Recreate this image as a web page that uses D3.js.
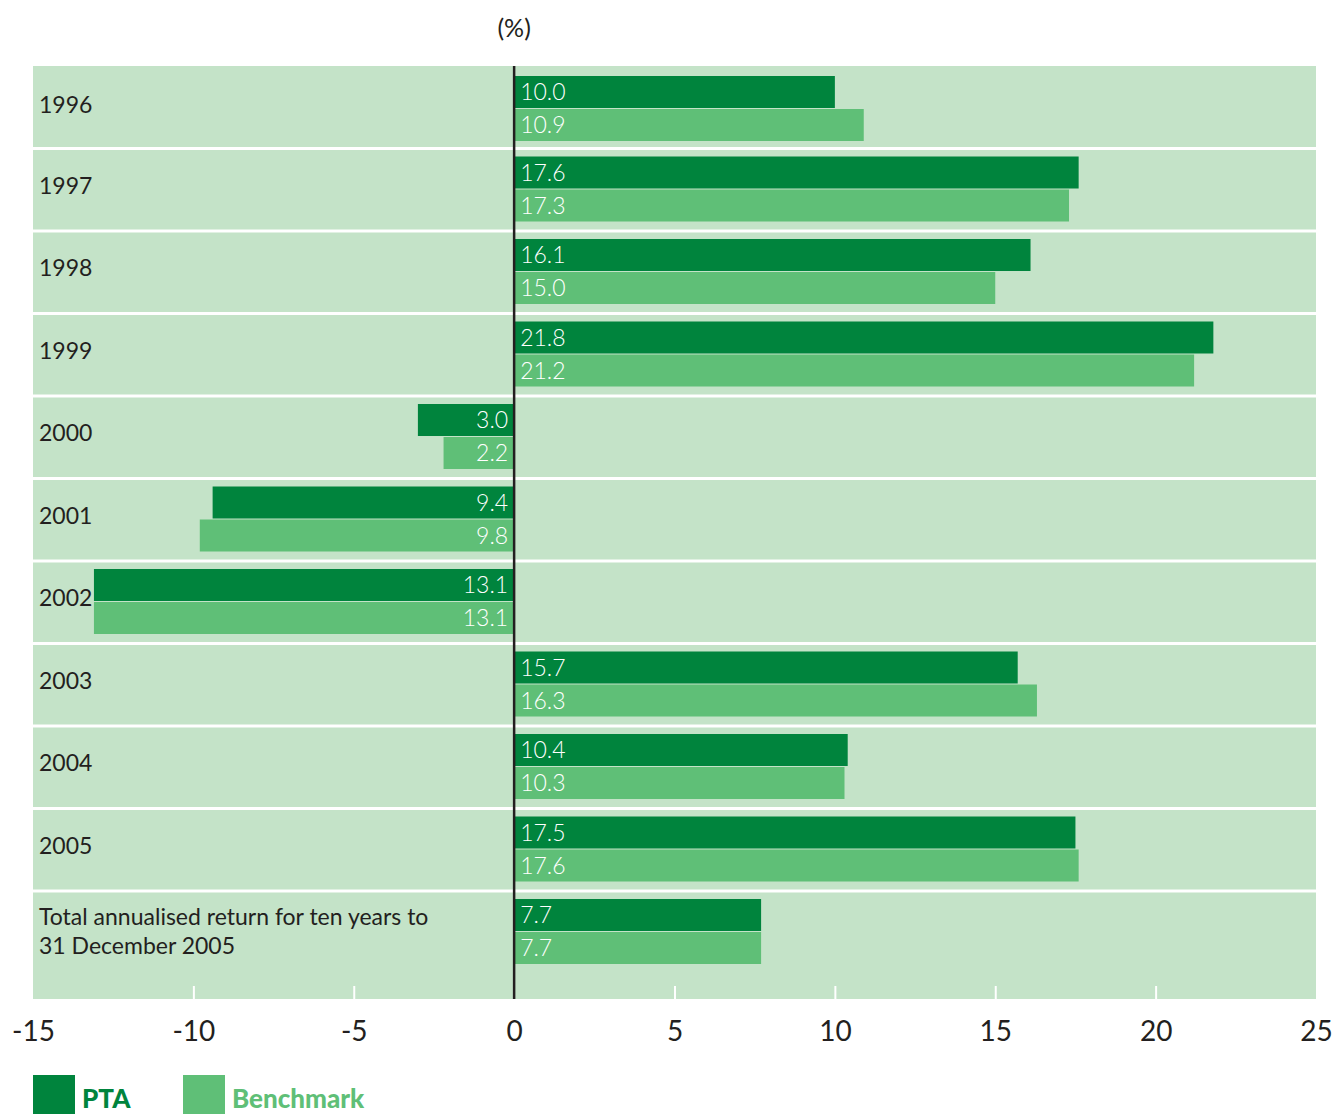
<!DOCTYPE html>
<html><head><meta charset="utf-8">
<script src="https://cdn.jsdelivr.net/npm/d3@7"></script>
<style>body{margin:0;background:#fff;}svg{display:block;}</style>
</head><body><svg id="c" width="1337" height="1114"></svg>
<script>
const categories = ["1996","1997","1998","1999","2000","2001","2002","2003","2004","2005","Total annualised return for ten years to|31 December 2005"];
const ptaValues = [10.0,17.6,16.1,21.8,-3.0,-9.4,-13.1,15.7,10.4,17.5,7.7];
const benchmarkValues = [10.9,17.3,15.0,21.2,-2.2,-9.8,-13.1,16.3,10.3,17.6,7.7];
const seriesNames = ["PTA","Benchmark"];
const tickValues = [-15,-10,-5,0,5,10,15,20,25];
const unitLabel = "(%)";

(function(){
const C_DARK = "#00843d", C_LIGHT = "#5fbf77", C_BG = "#c4e3c8", C_TEXT = "#231f20";
const FONT = "Lato, 'Open Sans', sans-serif";
const svg = d3.select("#c");
const pLeft = 33, pRight = 1316, pTop = 66, plotBottom = 999, rowH = 82.5;

const x = d3.scaleLinear().domain([-15,25]).range([pLeft,pRight]);
const y = d3.scaleBand().domain(categories).range([pTop, pTop + rowH*categories.length]).paddingInner(0).paddingOuter(0);

// row backgrounds
svg.selectAll("rect.row").data(categories).join("rect")
  .attr("x", pLeft).attr("width", pRight-pLeft)
  .attr("y", (d,i)=> y(d) + (i>0?1.5:0))
  .attr("height", (d,i)=> (i===categories.length-1 ? plotBottom - y(d) : y.bandwidth()) - (i>0?1.5:0) - (i<categories.length-1?1.5:0))
  .attr("fill", C_BG);

const bh = 32;
const data = categories.map((c,i)=>({c, v:[ptaValues[i], benchmarkValues[i]]}));
const offOf = i => i===0 ? 10 : 8;
const g = svg.append("g");
data.forEach((d,i)=>{
  d.v.forEach((v,k)=>{
    const yy = y(d.c) + offOf(i) + k*(bh+1);
    g.append("rect").attr("x", Math.min(x(0),x(v))).attr("width", Math.abs(x(v)-x(0)))
      .attr("y", yy).attr("height", bh).attr("fill", k===0?C_DARK:C_LIGHT);
    g.append("text").attr("x", v>=0 ? x(0)+6 : x(0)-6)
      .attr("y", yy + bh/2 + 8).attr("text-anchor", v>=0?"start":"end")
      .attr("fill","#fff").attr("font-family",FONT).attr("font-size",23).attr("font-weight",300)
      .text(Math.abs(v).toFixed(1));
  });
});

// category labels
data.forEach((d,i)=>{
  const lines = d.c.split("|");
  const t = svg.append("text").attr("x", 39).attr("font-family",FONT).attr("font-size",23).attr("fill",C_TEXT);
  if (lines.length===1) {
    t.attr("y", y(d.c) + offOf(i) + bh + 5).text(lines[0]);
  } else {
    lines.forEach((l,j)=> t.append("tspan").attr("x",39).attr("y", y(d.c)+8+26+j*29).text(l));
  }
});

// axis
const axis = d3.axisBottom(x).tickValues(tickValues).tickSize(-13).tickPadding(22).tickFormat(d3.format("d"));
const ag = svg.append("g").attr("transform",`translate(0,${plotBottom})`).call(axis);
ag.select(".domain").remove();
ag.selectAll(".tick line").attr("stroke","#fff").attr("stroke-width",2)
  .attr("display", d=> (d===-15||d===25||d===0)?"none":null);
ag.selectAll(".tick text").attr("font-family",FONT).attr("font-size",28).attr("fill",C_TEXT)
  .text(d=> d<0 ? "-"+Math.abs(d) : d);

// zero line
svg.append("line").attr("x1",x(0)).attr("x2",x(0)).attr("y1",pTop).attr("y2",plotBottom)
  .attr("stroke","#231f20").attr("stroke-width",2.5);

// unit label
svg.append("text").attr("x", x(0)).attr("y", 37).attr("text-anchor","middle")
  .attr("font-family",FONT).attr("font-size",25).attr("fill",C_TEXT).text(unitLabel);

// legend
const lx = [33,183];
seriesNames.forEach((n,k)=>{
  svg.append("rect").attr("x",lx[k]).attr("y",1075).attr("width",42).attr("height",40).attr("fill",k===0?C_DARK:C_LIGHT);
  svg.append("text").attr("x",lx[k]+49).attr("y",1108).attr("font-family",FONT).attr("font-weight",900)
    .attr("font-size",26).attr("fill",k===0?C_DARK:C_LIGHT).text(n);
});
})();
</script></body></html>
